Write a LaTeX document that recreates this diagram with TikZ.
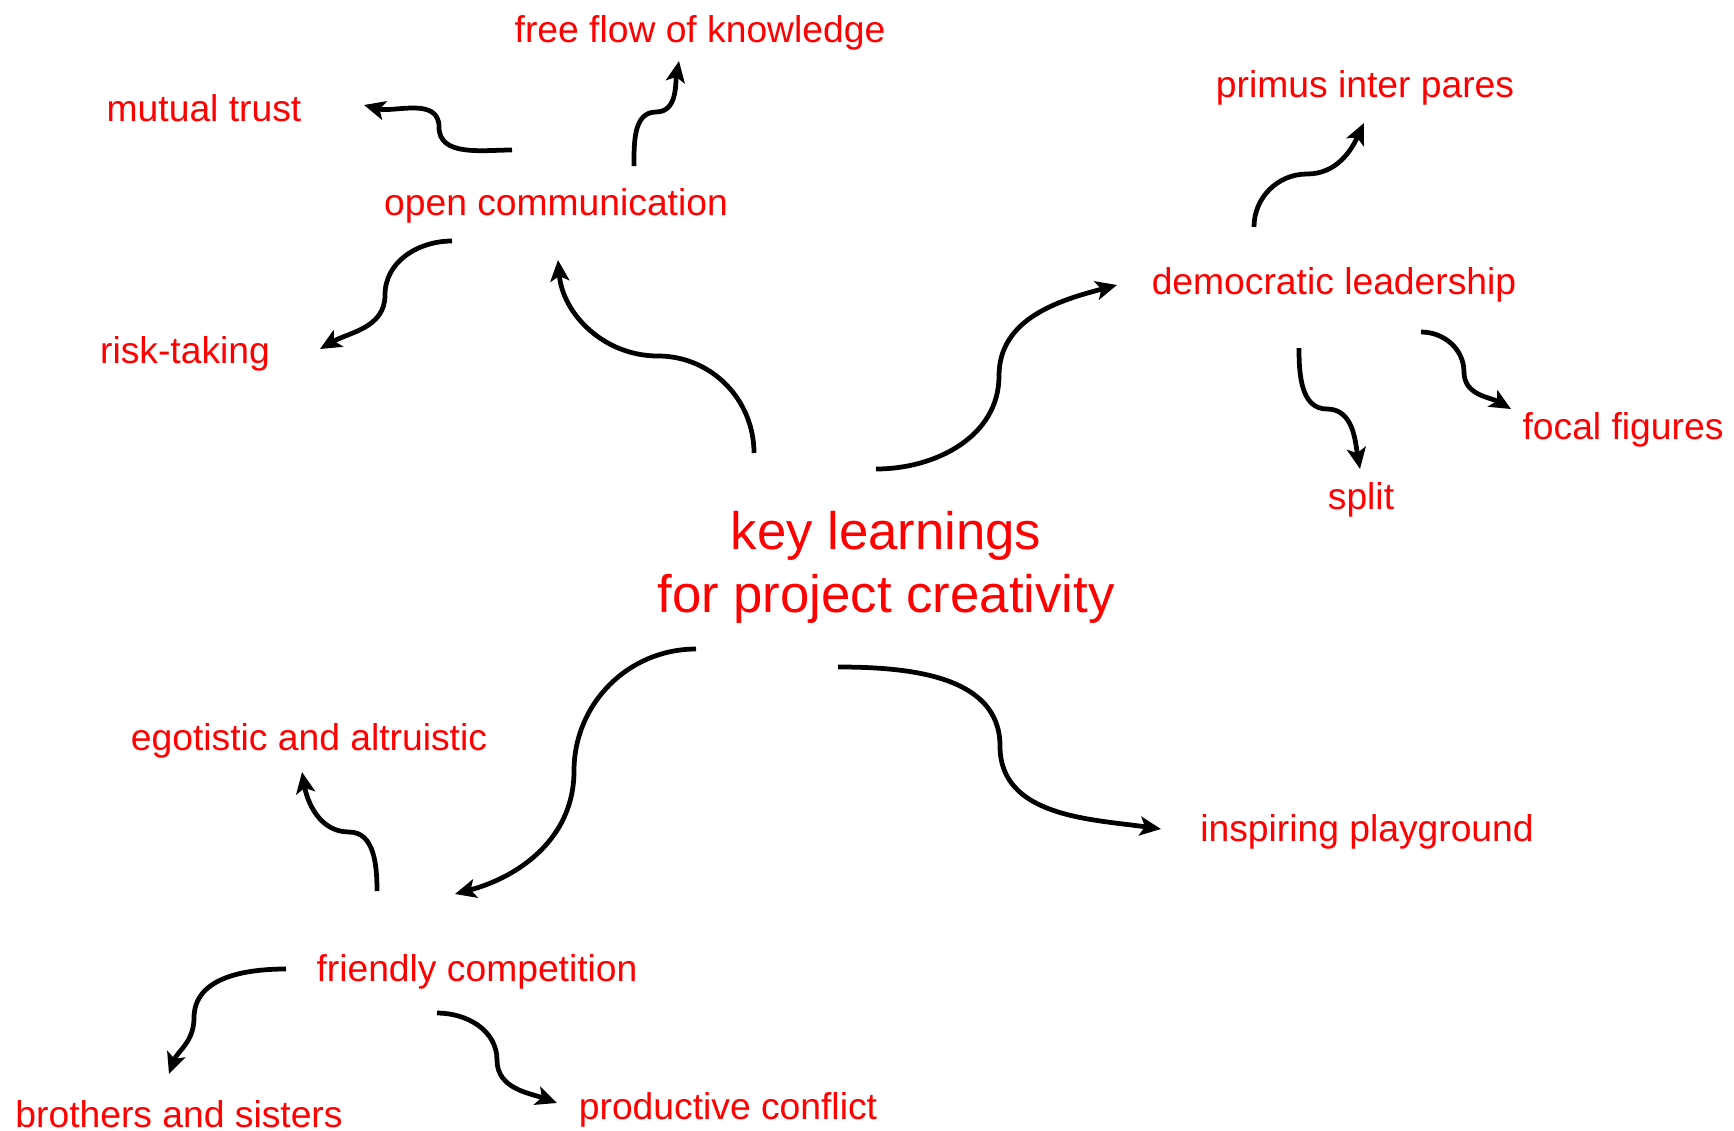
\documentclass[tikz,border=0pt]{standalone}
\usepackage{fontspec}
\setmainfont{Liberation Sans}
\usetikzlibrary{arrows.meta}

\begin{document}
\begin{tikzpicture}[>={Stealth[length=6pt,width=5.4pt,inset=1.4pt]},
  every node/.style={text=red,font=\fontsize{10.6}{12.7}\selectfont},
  link/.style={->,line width=1.35pt}]
\useasboundingbox (0,0) rectangle (17.34,-11.31);
\node (key) [align=center,font=\fontsize{15}{17.9}\selectfont]
  at (8.86,-5.67) {key learnings\\for project creativity};
\node (open) at (5.56,-2.06) {open communication};
\node (free) at (7.00,-0.33) {free flow of knowledge};
\node (trust) at (2.04,-1.08) {mutual trust};
\node (risk) at (1.85,-3.54) {risk-taking};
\node (demo) at (13.34,-2.85) {democratic leadership};
\node (primus) at (13.65,-0.88) {primus inter pares};
\node (focal) at (16.23,-4.30) {focal figures};
\node (split) at (13.61,-5.00) {split};
\node (play) at (13.67,-8.32) {inspiring playground};
\node (friend) at (4.77,-9.72) {friendly competition};
\node (ego) at (3.09,-7.41) {egotistic and altruistic};
\node (bros) at (1.79,-11.14) {brothers and sisters};
\node (prod) at (7.28,-11.10) {productive conflict};

\coordinate (key1) at (7.54,-4.53);
\coordinate (key2) at (8.76,-4.69);
\coordinate (key3) at (6.96,-6.49);
\coordinate (key4) at (8.38,-6.67);
\coordinate (open1) at (5.58,-2.60);
\coordinate (open2) at (6.34,-1.66);
\coordinate (open3) at (5.12,-1.50);
\coordinate (open4) at (4.52,-2.41);
\coordinate (demo1) at (11.17,-2.85);
\coordinate (demo2) at (12.54,-2.27);
\coordinate (demo3) at (12.99,-3.48);
\coordinate (demo4) at (14.21,-3.32);
\coordinate (friend1) at (4.55,-8.94);
\coordinate (friend2) at (3.77,-8.91);
\coordinate (friend3) at (2.86,-9.69);
\coordinate (friend4) at (4.37,-10.13);
\coordinate (play1) at (11.61,-8.29);
\coordinate (free1) at (6.79,-0.61);
\coordinate (trust1) at (3.64,-1.05);
\coordinate (risk1) at (3.20,-3.49);
\coordinate (primus1) at (13.64,-1.23);
\coordinate (split1) at (13.60,-4.69);
\coordinate (focal1) at (15.11,-4.09);
\coordinate (ego1) at (3.02,-7.72);
\coordinate (bros1) at (1.69,-10.74);
\coordinate (prod1) at (5.57,-11.03);

\draw[link] (key1) to[out=90,in=0] (6.58,-3.56)
  to[out=180,in=-85] (open1);
\draw[link] (key2) to[out=0,in=-90] (9.99,-3.76)
  to[out=90,in=195] (demo1);
\draw[link] (key3) to[out=180,in=90] (5.74,-7.71)
  to[out=-90,in=15] (friend1);
\draw[link] (key4) to[out=0,in=90] (10.00,-7.46)
  to[out=-90,in=172] (play1);

\draw[link] (open2) to[out=90,in=180] (6.56,-1.12)
  to[out=0,in=-100] (free1);
\draw[link] (open3) to[out=180,in=-90] (4.39,-1.27)
  to[out=90,in=-15] (trust1);
\draw[link] (open4) to[out=180,in=90] (3.85,-2.95)
  to[out=-90,in=30] (risk1);

\draw[link] (demo2) to[out=90,in=180] (13.07,-1.74)
  to[out=0,in=-115] (primus1);
\draw[link] (demo3) to[out=-90,in=180] (13.27,-4.09)
  to[out=0,in=100] (split1);
\draw[link] (demo4) to[out=0,in=90] (14.64,-3.72)
  to[out=-90,in=150] (focal1);

\draw[link] (friend2) to[out=90,in=0] (3.49,-8.32)
  to[out=180,in=-80] (ego1);
\draw[link] (friend3) to[out=180,in=90] (1.94,-10.18)
  to[out=-90,in=70] (bros1);
\draw[link] (friend4) to[out=0,in=90] (4.97,-10.60)
  to[out=-90,in=160] (prod1);
\end{tikzpicture}
\end{document}
